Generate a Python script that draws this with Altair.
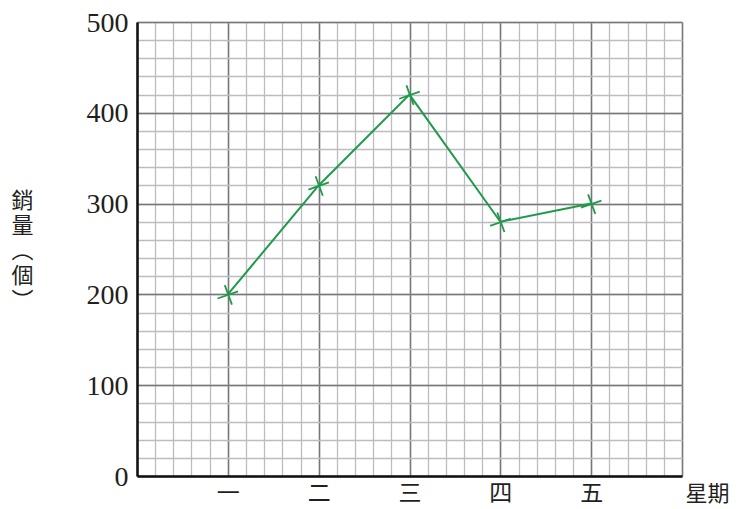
import altair as alt
import pandas as pd

days = ["一", "二", "三", "四", "五"]
day_pos = [1, 2, 3, 4, 5]
sales = [200, 320, 420, 280, 300]
y_major = [0, 100, 200, 300, 400, 500]
y_minor = list(range(0, 501, 20))
x_major = [0, 1, 2, 3, 4, 5, 6]
x_minor = [i / 5 for i in range(0, 31)]

df = pd.DataFrame({"pos": day_pos, "day": days, "sales": sales})

label_expr = "datum.value==1?'一':datum.value==2?'二':datum.value==3?'三':datum.value==4?'四':datum.value==5?'五':''"

xs = alt.Scale(domain=[0, 6], nice=False, zero=False)
ys = alt.Scale(domain=[0, 500], nice=False)

base = alt.Chart(df)

minor = base.mark_point(opacity=0).encode(
    x=alt.X("pos:Q", scale=xs, axis=alt.Axis(orient="bottom", values=x_minor, grid=True, gridColor="#bdbdc1", gridWidth=1.3,
                                           labels=False, ticks=False, domain=False, title=None)),
    y=alt.Y("sales:Q", scale=ys, axis=alt.Axis(orient="left", values=y_minor, grid=True, gridColor="#bdbdc1", gridWidth=1.3,
                                              labels=False, ticks=False, domain=False, title=None)),
)

major = base.mark_point(opacity=0).encode(
    x=alt.X("pos:Q", scale=xs, axis=alt.Axis(orient="bottom", values=x_major, grid=True, gridColor="#77777b", gridWidth=1.5,
                                           labels=False, ticks=False, domain=False, title=None)),
    y=alt.Y("sales:Q", scale=ys, axis=alt.Axis(orient="left", values=y_major, grid=True, gridColor="#77777b", gridWidth=1.5,
                                              labels=False, ticks=False, domain=False, title=None)),
)

line = base.mark_line(color="#1f9a4a", strokeWidth=2).encode(
    x=alt.X("pos:Q", scale=xs, axis=alt.Axis(orient="bottom", values=day_pos, labelExpr=label_expr, grid=False, ticks=False,
                                           domain=True, domainColor="#111111", domainWidth=2.5,
                                           labelFont="Noto Sans CJK TC", labelFontSize=23, labelColor="#231f20",
                                           labelPadding=17, labelBaseline="middle", labelOffset=0,
                                           title="星期", titleFont="Noto Sans CJK TC", titleFontSize=22, titleFontWeight="normal",
                                           titleColor="#231f20", titleX=570, titleY=17, titleBaseline="middle",
                                           titleAlign="center", titleAngle=0)),
    y=alt.Y("sales:Q", scale=ys, axis=alt.Axis(orient="left", values=y_major, grid=False, ticks=False,
                                              domain=True, domainColor="#111111", domainWidth=2.5,
                                              labelFont="Liberation Serif", labelFontSize=28, labelColor="#231f20",
                                              labelPadding=9, labelBaseline="alphabetic", labelOffset=9,
                                              title=["銷", "量", "︵", "個", "︶"], titleFont="Noto Sans CJK TC",
                                              titleFontSize=22, titleFontWeight="normal", titleColor="#231f20",
                                              titleAngle=0, titleX=-115, titleY=168, titleBaseline="top",
                                              titleAlign="center", titleLineHeight=25)),
)

points = base.mark_point(shape="M-1,0.4L1,-0.3M-0.3,-0.9L0.4,1", filled=False, color="#1f9a4a",
                         strokeWidth=1.8, size=420, opacity=1).encode(
    x=alt.X("pos:Q", scale=xs, axis=None),
    y=alt.Y("sales:Q", scale=ys, axis=None),
)

chart = alt.layer(minor, major, line, points).resolve_axis(x="independent", y="independent").properties(
    width=545, height=454,
    autosize=alt.AutoSizeParams(type="none"),
    padding={"left": 129, "top": 14, "right": 52, "bottom": 30},
).configure_view(stroke="#333333", strokeWidth=1.5).configure(background="white")

chart.save("out.html", embed_options={"renderer": "svg", "actions": False})
